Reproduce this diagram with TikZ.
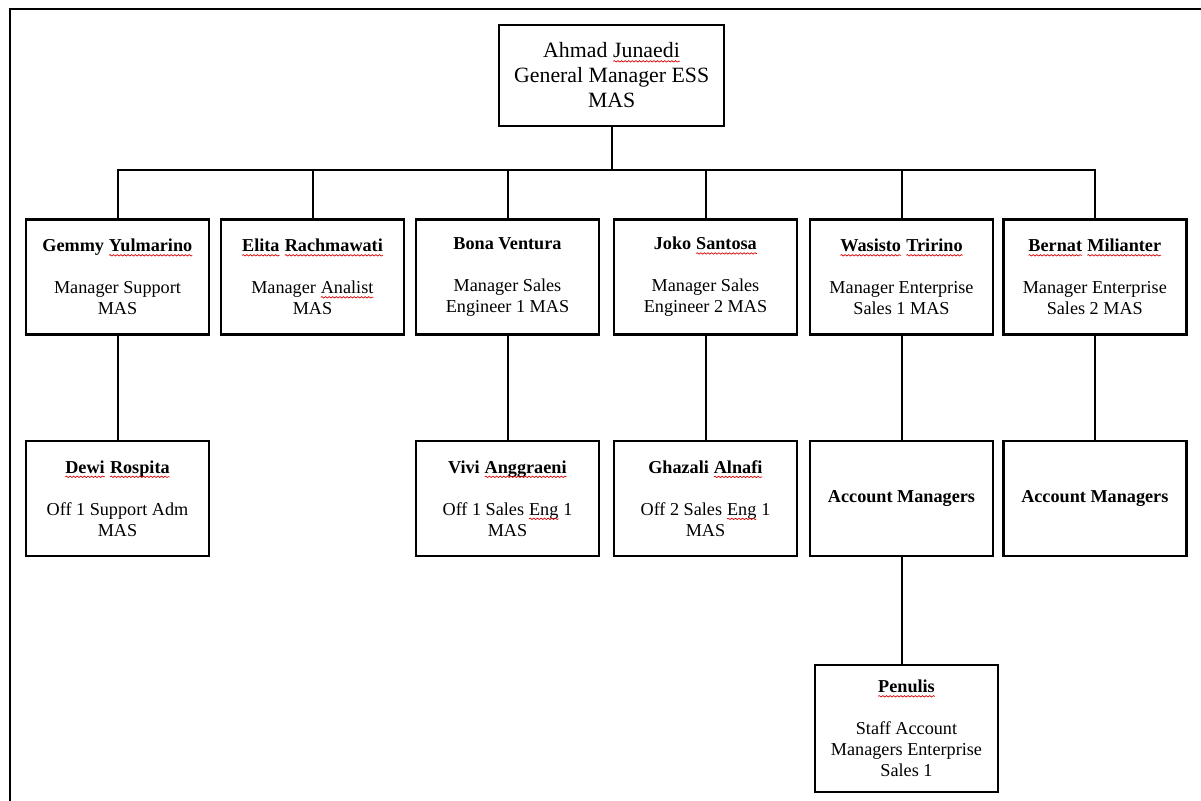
\documentclass[tikz,border=0pt]{standalone}
\usepackage{fontspec}
\setmainfont{Liberation Serif}
\usetikzlibrary{decorations.pathmorphing}
\tikzset{sqnode/.style={draw=none, fill=none, inner sep=0pt, outer sep=0pt, minimum width=0pt, minimum height=0pt, font={}, anchor=base},
  sqline/.style={draw=red!85!black, line width=0.35pt, decorate, decoration={snake, amplitude=0.35pt, segment length=1.8pt}}}
\newcommand{\sq}[1]{\tikz[baseline=(w.base)]{\node[sqnode] (w) {#1}; \path[sqline] ([yshift=-1.8pt]w.base west) -- ([yshift=-1.8pt]w.base east);}}
\begin{document}
\begin{tikzpicture}[x=0.5pt,y=-0.5pt,
  box/.style={draw, line width=1.2pt, inner sep=0pt, minimum width=91.5pt, minimum height=57.5pt, align=center, font=\fontsize{9.1}{10.5}\selectfont},
  rootbox/.style={box, minimum width=112.5pt, minimum height=50.5pt, font=\fontsize{10.9}{12.5}\selectfont},
  conn/.style={line width=1pt},
  frame/.style={line width=1pt}]
\fill[white] (0,0) rectangle (1201,801);
\useasboundingbox (0,0) rectangle (1201,801);
\draw[frame] (9.5,801) -- (9.5,9.5) -- (1201,9.5);

\node[rootbox] (root) at (611.7,75.3) {Ahmad \sq{Junaedi}\\General Manager ESS\\MAS};

\node[box] (c1) at (117.5,277) {\textbf{Gemmy \sq{Yulmarino}}\\[10.5pt]Manager Support\\MAS};
\node[box] (c2) at (312.5,277) {\textbf{\sq{Elita} \sq{Rachmawati}}\\[10.5pt]Manager \sq{Analist}\\MAS};
\node[box] (c3) at (507.5,277) {\textbf{Bona Ventura}\\[10.5pt]Manager Sales\\Engineer 1 MAS};
\node[box] (c4) at (705.5,277) {\textbf{Joko \sq{Santosa}}\\[10.5pt]Manager Sales\\Engineer 2 MAS};
\node[box] (c5) at (901.5,277) {\textbf{\sq{Wasisto} \sq{Tririno}}\\[10.5pt]Manager Enterprise\\Sales 1 MAS};
\node[box] (c6) at (1094.8,277) {\textbf{\sq{Bernat} \sq{Milianter}}\\[10.5pt]Manager Enterprise\\Sales 2 MAS};

\node[box] (d1) at (117.5,498.5) {\textbf{\sq{Dewi} \sq{Rospita}}\\[10.5pt]Off 1 Support Adm\\MAS};
\node[box] (d3) at (507.5,498.5) {\textbf{Vivi \sq{Anggraeni}}\\[10.5pt]Off 1 Sales \sq{Eng} 1\\MAS};
\node[box] (d4) at (705.5,498.5) {\textbf{Ghazali \sq{Alnafi}}\\[10.5pt]Off 2 Sales \sq{Eng} 1\\MAS};
\node[box] (d5) at (901.5,498.5) {\textbf{Account Managers}};
\node[box] (d6) at (1094.8,498.5) {\textbf{Account Managers}};

\node[box, minimum height=63.5pt] (p) at (906.5,728.5) {\textbf{\sq{Penulis}}\\[10.5pt]Staff Account\\Managers Enterprise\\Sales 1};

\coordinate (bus) at (611.7,170);
\draw[conn] (root.south) -- (root.south |- bus);
\draw[conn] (c1.north) -- (c1.north |- bus) -- (c6.north |- bus) -- (c6.north);
\foreach \c in {c2,c3,c4,c5} \draw[conn] (\c.north) -- (\c.north |- bus);

\draw[conn] (c1.south) -- (d1.north);
\draw[conn] (c3.south) -- (d3.north);
\draw[conn] (c4.south) -- (d4.north);
\draw[conn] (c5.south) -- (d5.north);
\draw[conn] (c6.south) -- (d6.north);
\draw[conn] (d5.south) -- (d5.south |- p.north);
\end{tikzpicture}
\end{document}
